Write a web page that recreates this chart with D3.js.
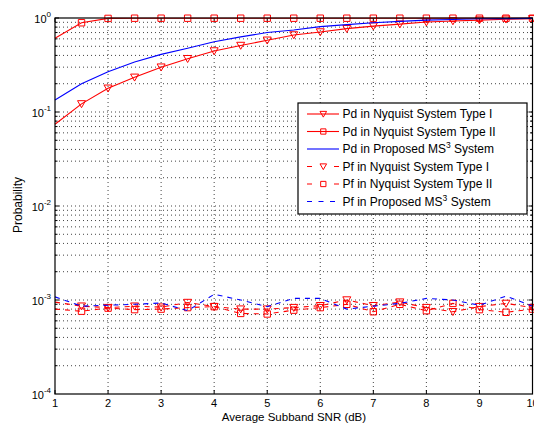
<!DOCTYPE html>
<html><head><meta charset="utf-8">
<script src="https://cdn.jsdelivr.net/npm/d3@7"></script>
<style>body{margin:0;background:#fff}svg{display:block}text{font-family:"Liberation Sans",Arial,sans-serif}</style>
</head><body><svg id="c" width="534" height="423"></svg>
<script>
const snr = [1,1.5,2,2.5,3,3.5,4,4.5,5,5.5,6,6.5,7,7.5,8,8.5,9,9.5,10];
const pdType1 = [0.074,0.122,0.179,0.234,0.30,0.369,0.446,0.51,0.58,0.66,0.71,0.77,0.82,0.86,0.905,0.93,0.95,0.97,0.98];
const pdType2 = [0.61,0.89,0.99,0.995,0.995,0.995,0.995,0.995,0.995,0.995,0.995,0.995,0.995,0.995,0.995,0.995,0.995,0.995,0.995];
const pdMS3 = [0.134,0.20,0.268,0.34,0.41,0.476,0.56,0.63,0.70,0.745,0.81,0.85,0.89,0.92,0.95,0.965,0.98,0.985,0.99];
const pfType1 = [0.95e-3,0.86e-3,0.83e-3,0.86e-3,0.84e-3,0.94e-3,0.85e-3,0.80e-3,0.80e-3,0.83e-3,0.87e-3,1.0e-3,0.87e-3,0.95e-3,0.83e-3,0.75e-3,0.85e-3,0.92e-3,0.83e-3];
const pfType2 = [0.80e-3,0.76e-3,0.82e-3,0.79e-3,0.80e-3,0.83e-3,0.85e-3,0.72e-3,0.71e-3,0.78e-3,0.83e-3,0.90e-3,0.75e-3,0.90e-3,0.77e-3,0.92e-3,0.79e-3,0.74e-3,0.80e-3];
const pfMS3 = [1.08e-3,0.86e-3,0.88e-3,0.90e-3,0.93e-3,0.77e-3,1.15e-3,1.0e-3,0.85e-3,1.04e-3,1.04e-3,0.80e-3,0.86e-3,0.92e-3,1.04e-3,1.0e-3,0.88e-3,1.1e-3,0.86e-3];
const xTicks = [1,2,3,4,5,6,7,8,9,10];
const yExps = [0,-1,-2,-3,-4];
const legendLabels = ["Pd in Nyquist System Type I","Pd in Nyquist System Type II","Pd in Proposed MS","Pf in Nyquist System Type I","Pf in Nyquist System Type II","Pf in Proposed MS"];

const svg = d3.select("#c");
const L=55, R=532.5, T=18, B=394;
const x = d3.scaleLinear().domain([1,10]).range([L,R]);
const y = d3.scaleLog().domain([1e-4,1]).range([B,T]);

// grid
const g = svg.append("g");
const minor = [];
for (let e=-4;e<0;e++) for (let k=1;k<10;k++) minor.push(k*Math.pow(10,e));
minor.forEach(v=>{ if (v>1e-4) g.append("line").attr("x1",L).attr("x2",R).attr("y1",y(v)).attr("y2",y(v))
  .attr("stroke","#444").attr("stroke-width",1).attr("stroke-dasharray","1,3"); });
xTicks.slice(1,-1).forEach(v=>g.append("line").attr("x1",x(v)).attr("x2",x(v)).attr("y1",T).attr("y2",B)
  .attr("stroke","#444").attr("stroke-width",1).attr("stroke-dasharray","1,3"));

// ticks inside
const tk = svg.append("g").attr("stroke","#000").attr("stroke-width",1);
xTicks.forEach(v=>{ tk.append("line").attr("x1",x(v)).attr("x2",x(v)).attr("y1",B).attr("y2",B-4);
  tk.append("line").attr("x1",x(v)).attr("x2",x(v)).attr("y1",T).attr("y2",T+4);});
minor.concat([1]).forEach(v=>{ if(v<=1e-4) return; const maj = Math.abs(Math.log10(v)-Math.round(Math.log10(v)))<1e-9; const len = maj?4:2.5;
  tk.append("line").attr("x1",L).attr("x2",L+len).attr("y1",y(v)).attr("y2",y(v));
  tk.append("line").attr("x1",R).attr("x2",R-len).attr("y1",y(v)).attr("y2",y(v));});

// series
const line = d3.line().x((d,i)=>x(snr[i])).y(d=>y(d));
const series = [
 {d:pdType1,c:"#ff0000",dash:null,m:"tri"},
 {d:pdType2,c:"#ff0000",dash:null,m:"sq"},
 {d:pdMS3,c:"#0000ff",dash:null,m:null},
 {d:pfType1,c:"#ff0000",dash:"5,5",m:"tri"},
 {d:pfType2,c:"#ff0000",dash:"5,5",m:"sq"},
 {d:pfMS3,c:"#0000ff",dash:"5,5",m:null}];
const tri = s=>`M${-s},${-s*0.8}L${s},${-s*0.8}L0,${s*0.95}Z`;
const sq = s=>`M${-s},${-s}H${s}V${s}H${-s}Z`;
function marker(sel,type,cx,cy,c,s){
  if(type==="tri") sel.append("path").attr("d",tri(s||4)).attr("transform",`translate(${cx},${cy})`).attr("fill","none").attr("stroke",c).attr("stroke-width",1);
  if(type==="sq") sel.append("path").attr("d",sq((s||4)*0.8)).attr("transform",`translate(${cx},${cy})`).attr("fill","none").attr("stroke",c).attr("stroke-width",1);
}
const pl = svg.append("g");
series.forEach(s=>{
  pl.append("path").attr("d",line(s.d)).attr("fill","none").attr("stroke",s.c).attr("stroke-width",1.1).attr("stroke-dasharray",s.dash);
  if(s.m) s.d.forEach((v,i)=>{ if(i>0) marker(pl,s.m,x(snr[i]),y(v),s.c); });
});

// frame
svg.append("rect").attr("x",L).attr("y",T).attr("width",R-L).attr("height",B-T).attr("fill","none").attr("stroke","#000").attr("stroke-width",1.2);

// labels
const lab = svg.append("g").attr("font-size",11).attr("fill","#000");
xTicks.forEach(v=>lab.append("text").attr("x",x(v)).attr("y",407).attr("text-anchor","middle").text(v));
yExps.forEach(e=>{
  const t = lab.append("text").attr("x",L-4).attr("y",y(Math.pow(10,e))+4.5).attr("text-anchor","end");
  t.append("tspan").text("10");
  t.append("tspan").attr("dy",-6).attr("font-size",8).text(e);
});
lab.append("text").attr("x",294).attr("y",420.5).attr("text-anchor","middle").attr("font-size",11.5).text("Average Subband SNR (dB)");
lab.append("text").attr("transform","translate(22,205) rotate(-90)").attr("text-anchor","middle").attr("font-size",12).text("Probability");

// legend
const lg = svg.append("g");
lg.append("rect").attr("x",298).attr("y",103).attr("width",229).attr("height",111).attr("fill","#fff").attr("stroke","#000").attr("stroke-width",1.2);
series.forEach((s,i)=>{
  const cy = 114 + i*17.5;
  const da = s.dash ? (s.m ? "5,22" : "5,6.5") : null;
  lg.append("line").attr("x1",307).attr("x2",339).attr("y1",cy).attr("y2",cy).attr("stroke",s.c).attr("stroke-width",1.1).attr("stroke-dasharray",da);
  if(s.m) marker(lg,s.m,323.3,cy,s.c,3.3);
  const t = lg.append("text").attr("x",342.5).attr("y",cy+4.2).attr("font-size",12).attr("fill","#000");
  t.append("tspan").text(legendLabels[i]);
  if(i===2||i===5){ t.append("tspan").attr("dy",-5).attr("font-size",8.5).text("3"); t.append("tspan").attr("dy",5).text(" System"); }
});
</script></body></html>
